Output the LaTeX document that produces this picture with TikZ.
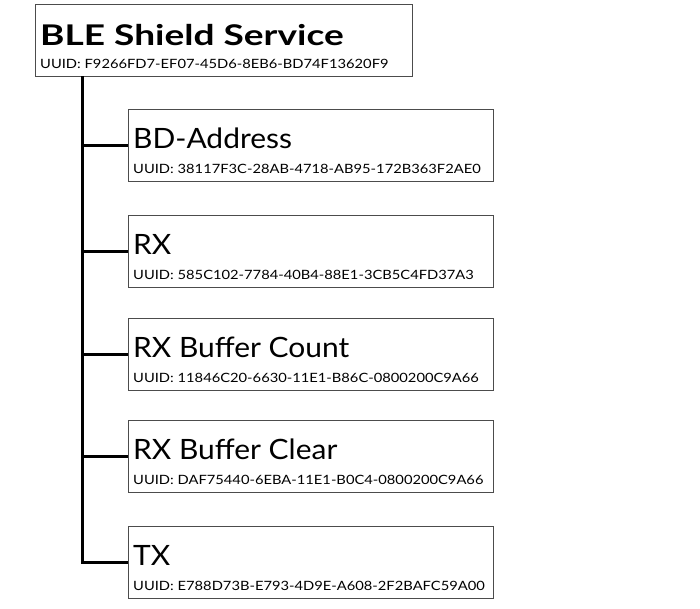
\documentclass[tikz,border=0pt]{standalone}
\usepackage{fontspec}
\setmainfont{Lato}
\newfontfamily\ttlfont[FakeStretch=1.07]{Lato}
\newfontfamily\uidfont[FakeStretch=1.15]{Lato}
\newfontfamily\bttlfont[FakeStretch=1.3]{Lato}
\newcommand\charbox[4]{%
  \node[box] (#1) at (128,#2) {};
  \node[ttl] (#1t) at ([xshift=5pt,yshift=-39pt]#1.north west) {#3};
  \node[uid] (#1u) at ([xshift=5pt,yshift=-64pt]#1.north west) {UUID: #4};
  \draw[conn] (trunk |- #1.west) -- (#1.west);
}
\begin{document}
\begin{tikzpicture}[x=1pt,y=-1pt,
  box/.style={draw=black!70, line width=1.1pt, inner sep=0pt, minimum width=365pt, minimum height=72pt, anchor=north west},
  ttl/.style={anchor=base west, inner sep=0pt, font=\ttlfont\fontsize{28}{30}\selectfont},
  uid/.style={anchor=base west, inner sep=0pt, font=\uidfont\fontsize{12.8}{14}\selectfont},
  conn/.style={line width=2.6pt}]
\useasboundingbox (0,0) rectangle (700,608);
\node[box, minimum width=377pt] (svc) at (35,4) {};
\node[ttl, font=\bttlfont\fontsize{28.5}{30}\selectfont\bfseries] (svct) at (40,45) {BLE Shield Service};
\node[uid] (svcu) at (40,68) {UUID: F9266FD7-EF07-45D6-8EB6-BD74F13620F9};
\coordinate (trunk) at (82.5,76);
\node[box] (tx) at (128,526) {};
\draw[conn] (trunk) |- (tx.west);
\charbox{bd}{109}{BD-Address}{38117F3C-28AB-4718-AB95-172B363F2AE0}
\charbox{rx}{215}{RX}{585C102-7784-40B4-88E1-3CB5C4FD37A3}
\charbox{rxc}{318}{RX Buffer Count}{11846C20-6630-11E1-B86C-0800200C9A66}
\charbox{rxl}{420}{RX Buffer Clear}{DAF75440-6EBA-11E1-B0C4-0800200C9A66}
\node[ttl] (txt) at ([xshift=5pt,yshift=-39pt]tx.north west) {TX};
\node[uid] (txu) at ([xshift=5pt,yshift=-64pt]tx.north west) {UUID: E788D73B-E793-4D9E-A608-2F2BAFC59A00};
\end{tikzpicture}
\end{document}
